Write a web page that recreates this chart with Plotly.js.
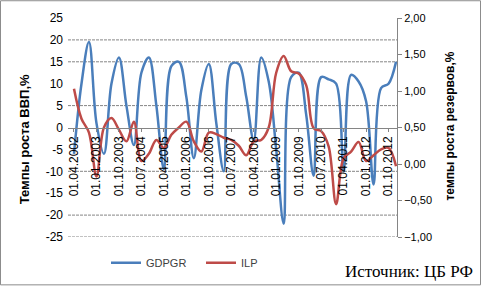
<!DOCTYPE html>
<html>
<head>
<meta charset="utf-8">
<script src="https://cdn.plot.ly/plotly-3.0.1.min.js"></script>
<style>html,body{margin:0;padding:0;background:#fff;}#chart{width:481px;height:289px;}</style>
</head>
<body>
<div id="chart"></div>
<script>
// Quarterly categories
const dates = [
  "01.04.2002","01.07.2002","01.10.2002","01.01.2003","01.04.2003","01.07.2003","01.10.2003","01.01.2004",
  "01.04.2004","01.07.2004","01.10.2004","01.01.2005","01.04.2005","01.07.2005","01.10.2005","01.01.2006",
  "01.04.2006","01.07.2006","01.10.2006","01.01.2007","01.04.2007","01.07.2007","01.10.2007","01.01.2008",
  "01.04.2008","01.07.2008","01.10.2008","01.01.2009","01.04.2009","01.07.2009","01.10.2009","01.01.2010",
  "01.04.2010","01.07.2010","01.10.2010","01.01.2011","01.04.2011","01.07.2011","01.10.2011","01.01.2012",
  "01.04.2012","01.07.2012","01.10.2012","01.01.2013"
];
// GDP growth, % (left axis)
const gdpgr = [
  -6, 10, 19.5, 1, -6, 10, 16, 5,
  -4, 12.5, 16, 5, -9.5, 14, 15, 7,
  -7, 8.5, 14.5, 1, -10, 14.5, 14.5, 7,
  -3, 16, 10.5, -5, -22, 11.5, 12.5, 3,
  -11, 11.5, 11, 10, -10, 12, 10.5, 6,
  -13, 9, 10, 15
];
// Reserves growth, % (right axis)
const ilp = [
  1.03, 0.62, 0.43, -0.17, 0.50, 0.63, 0.47, 0.31,
  0.58, 0.04, 0.14, 0.33, 0.22, 0.40, 0.50, 0.58,
  0.31, 0.17, 0.43, 0.41, 0.36, 0.33, 0.25, 0.12,
  0.31, 0.33, 0.50, 1.25, 1.48, 1.27, 1.24, 1.08,
  0.49, 0.45, 0.24, -0.55, 0.08, 0.17, 0.30, 0.04,
  0.12, 0.20, 0.22, -0.03
];
const xTickLabels = ["01.04.2002","01.01.2003","01.10.2003","01.07.2004","01.04.2005","01.01.2006",
  "01.10.2006","01.07.2007","01.04.2008","01.01.2009","01.10.2009","01.07.2010","01.04.2011","01.01.2012","01.10.2012"];
const leftTicks = [25,20,15,10,5,0,-5,-10,-15,-20,-25];
const rightTicks = [2,1.5,1,0.5,0,-0.5,-1];
const gridValues = [20,15,5,-10,-20,-25];

const L = 68, R = 397, T = 18, B = 240;
const W = 481, H = 289;
const px = x => (x - L) / (R - L);
const py = y => (B - y) / (B - T);

const traces = [
  {x: dates, y: gdpgr, name: "GDPGR", type: "scatter", mode: "lines",
   line: {color: "#4a7ebb", width: 2.5, shape: "spline", smoothing: 1}, yaxis: "y"},
  {x: dates, y: ilp, name: "ILP", type: "scatter", mode: "lines",
   line: {color: "#be4b48", width: 2.5, shape: "spline", smoothing: 1}, yaxis: "y2"}
];

const shapes = gridValues.map(v => ({
  type: "line", xref: "paper", yref: "y", x0: 0, x1: 1, y0: v, y1: v,
  line: {color: "#858585", width: 1, dash: "3px,1px"}, layer: "below"
}));
shapes.push({type: "rect", xref: "paper", yref: "paper",
  x0: px(0.5), x1: px(W - 0.5), y0: py(H - 0.5), y1: py(0.5),
  line: {color: "#8c8c8c", width: 1}});

const layout = {
  width: W, height: H,
  margin: {l: L, r: W - R, t: T, b: H - B, pad: 0},
  paper_bgcolor: "#fff", plot_bgcolor: "rgba(0,0,0,0)",
  separators: ", ",
  font: {family: "Liberation Sans, Arial, sans-serif", size: 12, color: "#000"},
  showlegend: true,
  legend: {orientation: "h", x: px(106), xanchor: "left", y: py(266), yanchor: "middle",
    entrywidth: 50, entrywidthmode: "pixels",
    font: {size: 11, color: "#404040"}, bgcolor: "rgba(0,0,0,0)"},
  xaxis: {
    type: "category", range: [-0.8, 43.13],
    anchor: "free", position: 0.5,
    showline: true, linecolor: "#858585", linewidth: 1,
    ticks: "outside", ticklen: 3, tickcolor: "#858585",
    tickmode: "array", tickvals: xTickLabels, ticktext: xTickLabels,
    tickangle: -90, tickfont: {size: 12, color: "#000"},
    showgrid: false, zeroline: false
  },
  yaxis: {
    range: [-25, 25], tickmode: "array", tickvals: leftTicks,
    ticktext: leftTicks.map(String),
    showgrid: false, zeroline: false, showline: false,
    ticks: "", ticklabelstandoff: 4, tickfont: {size: 12, color: "#000"}
  },
  yaxis2: {
    overlaying: "y", side: "right", range: [-1, 2],
    tickmode: "array", tickvals: rightTicks, tickformat: ".2f",
    showgrid: false, zeroline: false,
    showline: true, linecolor: "#858585", linewidth: 1,
    ticks: "outside", ticklen: 4, tickcolor: "#858585",
    tickfont: {size: 11, color: "#000"}
  },
  shapes: shapes,
  annotations: [
    {text: "<b>Темпы роста ВВП,%</b>", xref: "paper", yref: "paper", x: px(24), y: py(141),
     textangle: -90, showarrow: false, font: {size: 13, color: "#000"}, xanchor: "center", yanchor: "middle"},
    {text: "<b>темпы роста резервов,%</b>", xref: "paper", yref: "paper", x: px(450), y: py(128),
     textangle: -90, showarrow: false, font: {size: 12, color: "#000"}, xanchor: "center", yanchor: "middle"},
    {text: "Источник: ЦБ РФ", xref: "paper", yref: "paper", x: px(475), y: py(275),
     showarrow: false, xanchor: "right", yanchor: "middle",
     font: {family: "Liberation Serif, Times New Roman, serif", size: 17, color: "#000"}}
  ]
};

Plotly.newPlot("chart", traces, layout, {displayModeBar: false, staticPlot: true});
</script>
</body>
</html>
